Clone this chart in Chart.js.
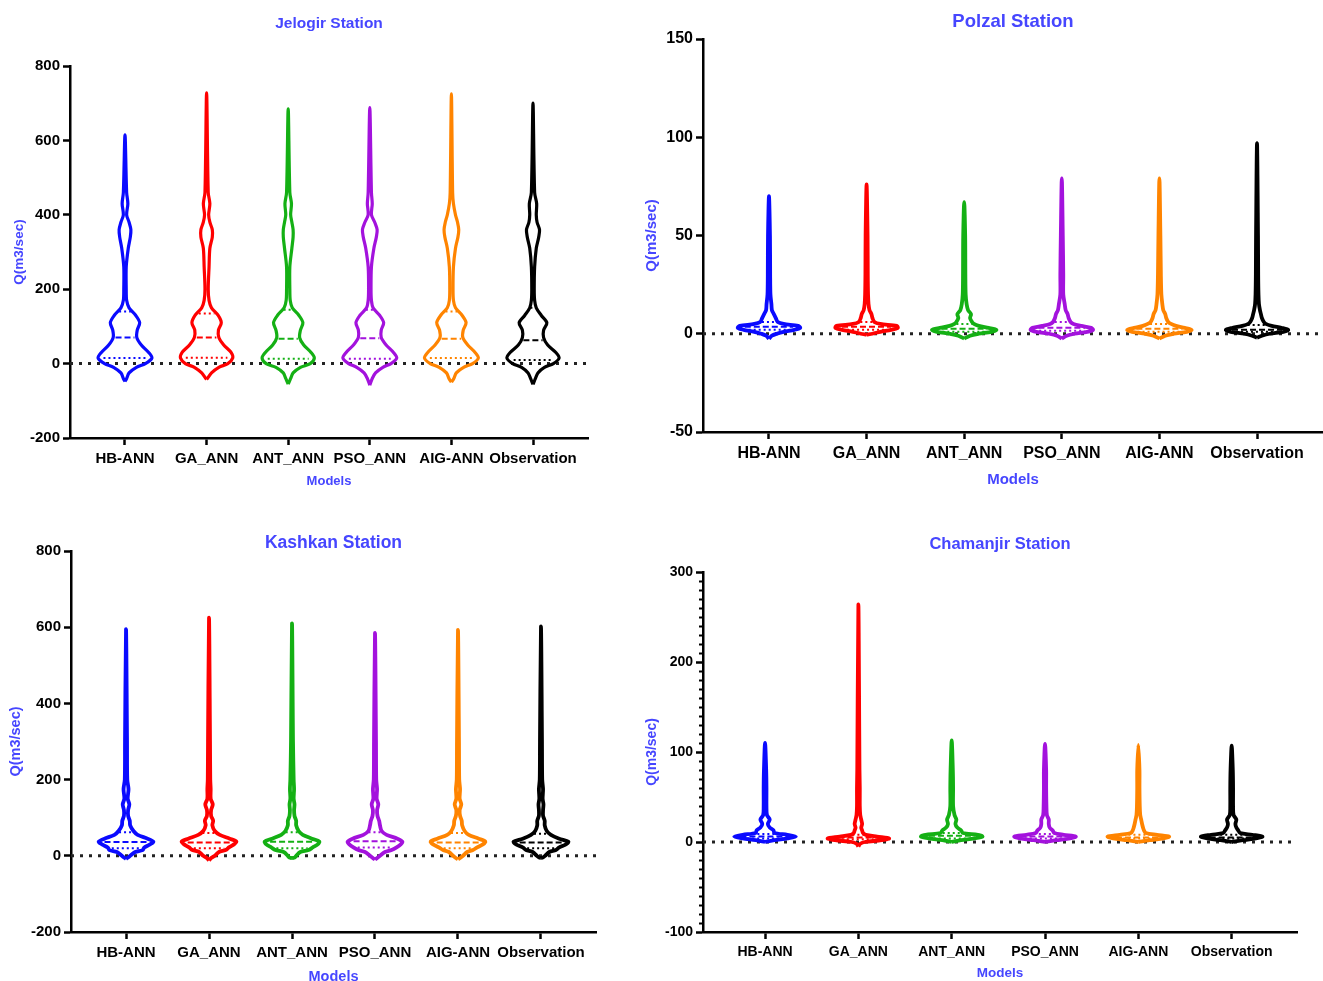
<!DOCTYPE html>
<html>
<head>
<meta charset="utf-8">
<script src="https://cdn.jsdelivr.net/npm/chart.js@4"></script>
<style>
  html, body { margin: 0; padding: 0; background: #fff; }
  body { width: 1323px; height: 981px; overflow: hidden; position: relative; }
  canvas { position: absolute; }
</style>
</head>
<body>
<canvas id="jelogir"></canvas>
<canvas id="polzal"></canvas>
<canvas id="kashkan"></canvas>
<canvas id="chamanjir"></canvas>
<script>
const models = ["HB-ANN", "GA_ANN", "ANT_ANN", "PSO_ANN", "AIG-ANN", "Observation"];
const colors = ["#0a0aff", "#ff0000", "#14b014", "#a312dd", "#ff8400", "#000000"];

// violin outlines: half width (in category units) at each level of Q
// Jelogir
const jelogirLevels = [-40, -25, -10, 0, 15, 30, 50, 70, 90, 110, 130, 150, 170, 200, 260, 310, 340, 360, 380, 400, 430, 460];
const jelogirWidths = [
  [0.02, 0.05, 0.14, 0.25, 0.33, 0.29, 0.2, 0.145, 0.15, 0.18, 0.13, 0.05, 0.02, 0.015, 0.015, 0.04, 0.065, 0.072, 0.05, 0.02, 0.035, 0.02],
  [0.01, 0.06, 0.15, 0.26, 0.32, 0.3, 0.21, 0.15, 0.145, 0.18, 0.14, 0.06, 0.03, 0.02, 0.03, 0.04, 0.07, 0.07, 0.04, 0.025, 0.04, 0.02],
  [0.03, 0.06, 0.15, 0.27, 0.32, 0.28, 0.19, 0.14, 0.15, 0.18, 0.13, 0.05, 0.025, 0.02, 0.02, 0.045, 0.06, 0.06, 0.045, 0.03, 0.04, 0.02],
  [0.03, 0.07, 0.16, 0.26, 0.33, 0.29, 0.2, 0.14, 0.14, 0.17, 0.12, 0.04, 0.02, 0.015, 0.02, 0.05, 0.08, 0.09, 0.06, 0.02, 0.03, 0.02],
  [0.03, 0.06, 0.15, 0.26, 0.33, 0.29, 0.2, 0.14, 0.145, 0.18, 0.13, 0.05, 0.025, 0.02, 0.025, 0.05, 0.08, 0.09, 0.075, 0.05, 0.025, 0.015],
  [0.03, 0.06, 0.14, 0.25, 0.32, 0.28, 0.18, 0.13, 0.13, 0.17, 0.1, 0.04, 0.02, 0.015, 0.02, 0.04, 0.07, 0.08, 0.05, 0.04, 0.045, 0.02]
];
const jelogirMin = [-48, -42, -55, -58, -50, -56];
const jelogirMax = [615, 728, 685, 688, 725, 700];
const jelogirQ1 = [15, 16, 13, 13, 15, 10];
const jelogirMedian = [70, 70, 67, 68, 67, 63];
const jelogirQ3 = [140, 135, 145, 145, 140, 150];

// Polzal
const polzalLevels = [-1, 0, 1, 2, 3, 4, 5, 6, 8, 10, 12, 15, 20, 30, 50];
const polzalWidths = [
  [0.03, 0.08, 0.15, 0.26, 0.32, 0.3, 0.15, 0.09, 0.07, 0.05, 0.03, 0.025, 0.015, 0.012, 0.01],
  [0, 0.06, 0.14, 0.25, 0.32, 0.31, 0.14, 0.08, 0.06, 0.05, 0.03, 0.02, 0.015, 0.012, 0.01],
  [0.06, 0.15, 0.28, 0.33, 0.25, 0.15, 0.1, 0.08, 0.06, 0.07, 0.04, 0.025, 0.015, 0.012, 0.01],
  [0.05, 0.13, 0.26, 0.32, 0.3, 0.2, 0.12, 0.09, 0.07, 0.06, 0.04, 0.03, 0.015, 0.015, 0.01],
  [0.06, 0.15, 0.28, 0.33, 0.26, 0.17, 0.12, 0.09, 0.07, 0.06, 0.04, 0.03, 0.02, 0.015, 0.01],
  [0.05, 0.13, 0.27, 0.32, 0.25, 0.15, 0.09, 0.07, 0.05, 0.04, 0.03, 0.02, 0.015, 0.012, 0.01]
];
const polzalMin = [-2.5, -0.5, -2.5, -2.5, -2.5, -2];
const polzalMax = [70, 76, 67, 79, 79, 97];
const polzalQ1 = [2, 2, 1, 1.5, 1, 1];
const polzalMedian = [3.5, 3.5, 2.5, 3, 2.5, 2];
const polzalQ3 = [6, 6, 5, 6, 5, 4.5];

// Kashkan
const kashkanLevels = [-5, 0, 10, 15, 22, 30, 37, 45, 55, 65, 80, 92, 105, 120, 135, 150, 175, 200, 300];
const kashkanWidths = [
  [0.02, 0.05, 0.11, 0.2, 0.22, 0.29, 0.33, 0.26, 0.14, 0.09, 0.05, 0.045, 0.025, 0.025, 0.04, 0.02, 0.03, 0.015, 0.012],
  [0.03, 0.07, 0.12, 0.2, 0.24, 0.3, 0.33, 0.25, 0.13, 0.07, 0.04, 0.05, 0.025, 0.025, 0.045, 0.02, 0.02, 0.015, 0.012],
  [0.03, 0.05, 0.1, 0.2, 0.25, 0.31, 0.33, 0.24, 0.13, 0.08, 0.05, 0.05, 0.03, 0.025, 0.03, 0.02, 0.025, 0.02, 0.012],
  [0.03, 0.06, 0.12, 0.2, 0.26, 0.31, 0.33, 0.27, 0.14, 0.08, 0.06, 0.05, 0.03, 0.025, 0.04, 0.02, 0.025, 0.015, 0.012],
  [0.03, 0.06, 0.11, 0.18, 0.23, 0.3, 0.33, 0.25, 0.13, 0.08, 0.05, 0.045, 0.025, 0.02, 0.04, 0.02, 0.025, 0.015, 0.012],
  [0.02, 0.05, 0.1, 0.18, 0.22, 0.3, 0.33, 0.22, 0.12, 0.07, 0.045, 0.045, 0.025, 0.025, 0.03, 0.02, 0.025, 0.015, 0.012]
];
const kashkanMin = [-8, -12, -6, -10, -9, -6];
const kashkanMax = [595, 625, 610, 585, 593, 602];
const kashkanQ1 = [20, 20, 20, 22, 20, 20];
const kashkanMedian = [36, 35, 37, 38, 35, 35];
const kashkanQ3 = [62, 60, 62, 62, 60, 58];

// Chamanjir
const chamanjirLevels = [-2, 0, 2, 4, 6, 8, 10, 13, 16, 20, 25, 30, 40, 60, 80];
const chamanjirWidths = [
  [0, 0.03, 0.1, 0.24, 0.33, 0.24, 0.1, 0.09, 0.05, 0.03, 0.05, 0.02, 0.015, 0.015, 0.012],
  [0.02, 0.07, 0.25, 0.33, 0.2, 0.08, 0.05, 0.04, 0.03, 0.04, 0.03, 0.02, 0.015, 0.015, 0.012],
  [0, 0.03, 0.1, 0.24, 0.33, 0.28, 0.12, 0.1, 0.06, 0.04, 0.05, 0.03, 0.015, 0.015, 0.012],
  [0, 0.03, 0.12, 0.27, 0.33, 0.2, 0.1, 0.08, 0.05, 0.04, 0.04, 0.02, 0.015, 0.012, 0.012],
  [0, 0.03, 0.12, 0.27, 0.33, 0.2, 0.08, 0.06, 0.05, 0.04, 0.03, 0.02, 0.015, 0.012, 0.012],
  [0, 0.03, 0.12, 0.26, 0.33, 0.22, 0.09, 0.07, 0.05, 0.04, 0.05, 0.02, 0.015, 0.015, 0.012]
];
const chamanjirMin = [0, -5, 0, 0, 0, 0];
const chamanjirMax = [110, 264, 113, 109, 108, 107];
const chamanjirQ1 = [4, 3, 4, 4, 4, 4];
const chamanjirMedian = [6, 5, 7, 6, 5, 5];
const chamanjirQ3 = [9, 8, 10, 9, 8, 8];

const FONT = "'Liberation Sans', Arial, sans-serif";
const TITLE_BLUE = "#4646ff";
Chart.defaults.font.family = FONT;

function widthAt(levels, widths, v) {
  if (!levels.length) return 0;
  if (v <= levels[0]) return widths[0];
  for (let k = 1; k < levels.length; k++) {
    if (v <= levels[k]) {
      const t = (v - levels[k - 1]) / (levels[k] - levels[k - 1]);
      return widths[k - 1] + t * (widths[k] - widths[k - 1]);
    }
  }
  return widths[widths.length - 1];
}

function violinDatasets(st, lineW) {
  const sets = [];
  models.forEach((m, i) => {
    const lv = [], wd = [];
    st.levels.forEach((l, k) => {
      if (l > st.min[i] && l < st.max[i]) { lv.push(l); wd.push(st.widths[i][k]); }
    });
    const right = lv.map((l, k) => ({ x: i + wd[k], y: l }));
    const left = lv.map((l, k) => ({ x: i - wd[k], y: l })).reverse();
    sets.push({
      label: m,
      data: [{ x: i, y: st.min[i] }, ...right, { x: i, y: st.max[i] }, ...left, { x: i, y: st.min[i] }],
      borderColor: colors[i],
      borderWidth: lineW,
      tension: 0.3
    });
    [[st.q1[i], [2, 3]], [st.median[i], [6, 3]], [st.q3[i], [2, 3]]].forEach(([q, dash]) => {
      const w = widthAt(lv, wd, q) * 0.8;
      sets.push({
        data: [{ x: i - w, y: q }, { x: i + w, y: q }],
        borderColor: colors[i],
        borderWidth: 2,
        borderDash: dash,
        tension: 0
      });
    });
  });
  return sets;
}

const stationTitle = {
  id: "stationTitle",
  afterDraw(chart, args, opts) {
    if (!opts.text) return;
    const { ctx, chartArea } = chart;
    ctx.save();
    ctx.font = `bold ${opts.size}px ${FONT}`;
    ctx.fillStyle = TITLE_BLUE;
    ctx.textAlign = "center";
    ctx.textBaseline = "middle";
    ctx.fillText(opts.text, (chartArea.left + chartArea.right) / 2, opts.y);
    ctx.restore();
  }
};

// short ticks between the labelled ones (Chamanjir y axis)
const minorTicks = {
  id: "minorTicks",
  afterDraw(chart, args, opts) {
    if (!opts.step) return;
    const y = chart.scales.y, ctx = chart.ctx, x0 = chart.chartArea.left;
    ctx.save();
    ctx.strokeStyle = "#000";
    ctx.lineWidth = 2;
    for (let v = y.min; v <= y.max; v += opts.step) {
      if (v % opts.major === 0) continue;
      const py = Math.round(y.getPixelForValue(v)) + 0.5;
      ctx.beginPath();
      ctx.moveTo(x0 - opts.len, py);
      ctx.lineTo(x0, py);
      ctx.stroke();
    }
    ctx.restore();
  }
};

function makeChart(p, st) {
  const cv = document.getElementById(p.id);
  cv.width = p.w;
  cv.height = p.h;
  cv.style.left = p.left + "px";
  cv.style.top = p.top + "px";
  const zero = {
    data: [{ x: p.xMin, y: 0 }, { x: p.xMax, y: 0 }],
    borderColor: "#222",
    borderWidth: 3,
    borderDash: [3, 6],
    tension: 0
  };
  const xTitleSize = p.modelsSize, yTitleSize = p.yTitleSize;
  new Chart(cv, {
    type: "scatter",
    data: { datasets: [...violinDatasets(st, p.lineW), zero] },
    options: {
      responsive: false,
      animation: false,
      events: [],
      layout: { padding: { left: 0, top: p.plotT - p.top, right: p.left + p.w - p.plotR, bottom: 0 } },
      datasets: { scatter: { showLine: true } },
      elements: {
        point: { radius: 0, hoverRadius: 0 },
        line: { fill: false, borderJoinStyle: "round" }
      },
      plugins: {
        legend: { display: false },
        tooltip: { enabled: false },
        stationTitle: { text: p.title, y: p.titleY - p.top + 2, size: p.titleSize },
        minorTicks: p.minor ? { step: p.minor, major: p.yStep, len: 4 } : {}
      },
      scales: {
        x: {
          type: "linear",
          min: p.xMin,
          max: p.xMax,
          afterBuildTicks: (s) => { s.ticks = models.map((m, i) => ({ value: i })); },
          afterFit: (s) => { s.height = p.h - (p.plotB - p.top); },
          ticks: {
            callback: (v) => models[v],
            color: "#000",
            font: { size: p.tickSize, weight: "bold" },
            maxRotation: 0,
            minRotation: 0,
            autoSkip: false,
            padding: 5
          },
          grid: { drawOnChartArea: false, tickLength: 7, tickColor: "#000", tickWidth: 2.5 },
          border: { color: "#000", width: 2.5 },
          title: {
            display: true,
            text: "Models",
            color: TITLE_BLUE,
            font: { size: xTitleSize, weight: "bold" },
            padding: { top: 0, bottom: p.top + p.h - p.modelsY - xTitleSize * 0.6 - 1.5 }
          }
        },
        y: {
          min: p.yMin,
          max: p.yMax,
          afterFit: (s) => { s.width = p.plotL - p.left; },
          ticks: {
            stepSize: p.yStep,
            color: "#000",
            font: { size: p.tickSize, weight: "bold" },
            padding: 3
          },
          grid: { drawOnChartArea: false, tickLength: 7, tickColor: "#000", tickWidth: 2.5 },
          border: { color: "#000", width: 2.5 },
          title: {
            display: true,
            text: "Q(m3/sec)",
            color: TITLE_BLUE,
            font: { size: yTitleSize, weight: "bold" },
            padding: { top: p.yTitleX - p.left - yTitleSize * 0.6 + 1, bottom: 0 }
          }
        }
      }
    },
    plugins: [stationTitle, minorTicks]
  });
}

makeChart(
  { id: "jelogir", title: "Jelogir Station", left: 0, top: 0, w: 640, h: 500,
    plotL: 70, plotT: 66, plotR: 588, plotB: 438, titleY: 22, titleSize: 15.5,
    modelsY: 480, modelsSize: 13, yTitleX: 18, yTitleSize: 13.5, tickSize: 15,
    xMin: -0.674, xMax: 5.674, yMin: -200, yMax: 800, yStep: 200, lineW: 3.2 },
  { levels: jelogirLevels, widths: jelogirWidths, min: jelogirMin, max: jelogirMax,
    q1: jelogirQ1, median: jelogirMedian, q3: jelogirQ3 }
);

makeChart(
  { id: "polzal", title: "Polzal Station", left: 640, top: 0, w: 683, h: 500,
    plotL: 703, plotT: 39, plotR: 1323, plotB: 432, titleY: 20, titleSize: 18.5,
    modelsY: 478, modelsSize: 15, yTitleX: 651, yTitleSize: 15, tickSize: 16,
    xMin: -0.676, xMax: 5.676, yMin: -50, yMax: 150, yStep: 50, lineW: 3.8 },
  { levels: polzalLevels, widths: polzalWidths, min: polzalMin, max: polzalMax,
    q1: polzalQ1, median: polzalMedian, q3: polzalQ3 }
);

makeChart(
  { id: "kashkan", title: "Kashkan Station", left: 0, top: 500, w: 640, h: 490,
    plotL: 71, plotT: 551, plotR: 596, plotB: 932, titleY: 541, titleSize: 17.5,
    modelsY: 975, modelsSize: 14.5, yTitleX: 15, yTitleSize: 14.5, tickSize: 15,
    xMin: -0.663, xMax: 5.663, yMin: -200, yMax: 800, yStep: 200, lineW: 3.8 },
  { levels: kashkanLevels, widths: kashkanWidths, min: kashkanMin, max: kashkanMax,
    q1: kashkanQ1, median: kashkanMedian, q3: kashkanQ3 }
);

makeChart(
  { id: "chamanjir", title: "Chamanjir Station", left: 640, top: 500, w: 683, h: 490,
    plotL: 703, plotT: 572, plotR: 1297, plotB: 932, titleY: 542, titleSize: 16.5,
    modelsY: 972, modelsSize: 13.5, yTitleX: 651, yTitleSize: 14, tickSize: 14,
    xMin: -0.665, xMax: 5.7, yMin: -100, yMax: 300, yStep: 100, minor: 10, lineW: 3.8 },
  { levels: chamanjirLevels, widths: chamanjirWidths, min: chamanjirMin, max: chamanjirMax,
    q1: chamanjirQ1, median: chamanjirMedian, q3: chamanjirQ3 }
);
</script>
</body>
</html>
